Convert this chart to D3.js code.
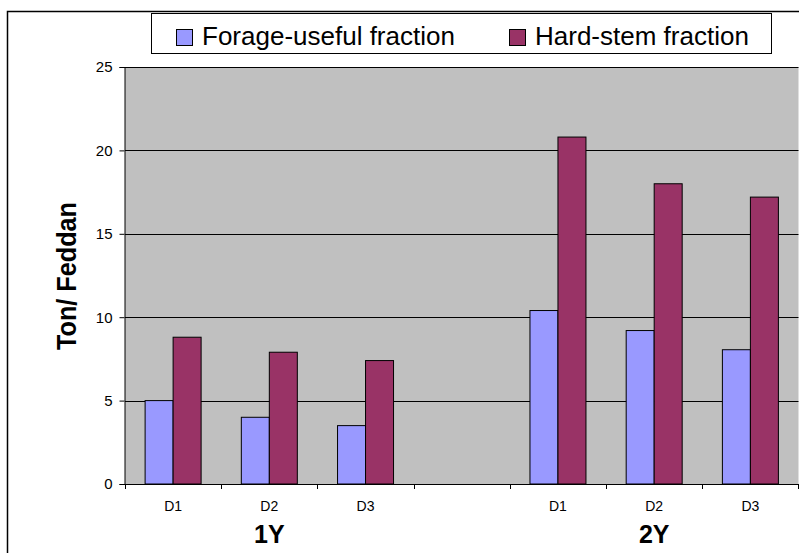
<!DOCTYPE html>
<html>
<head>
<meta charset="utf-8">
<script src="https://cdn.jsdelivr.net/npm/d3@7"></script>
<style>
  body { margin: 0; background: #fff; }
  text { font-family: "Liberation Sans", Arial, sans-serif; fill: #000; }
</style>
</head>
<body>
<div id="chart"></div>
<script>
// Data
const categories = ["1Y-D1", "1Y-D2", "1Y-D3", "gap", "2Y-D1", "2Y-D2", "2Y-D3"];
const catLabels = ["D1", "D2", "D3", "", "D1", "D2", "D3"];
const forage = [5.0, 4.0, 3.5, null, 10.4, 9.2, 8.05];
const hardStem = [8.8, 7.9, 7.4, null, 20.8, 18.0, 17.2];
const groups = ["1Y", "2Y"];
const groupCats = [["1Y-D1", "1Y-D2", "1Y-D3"], ["2Y-D1", "2Y-D2", "2Y-D3"]];
const seriesNames = ["Forage-useful fraction", "Hard-stem fraction"];
const yTicks = [0, 5, 10, 15, 20, 25];

const width = 799, height = 553;
const colors = ["#9999FF", "#993366"];

let svg = d3.select("#chart").append("svg")
  .attr("width", width)
  .attr("height", height);

// Outer chart border (runs off the right and bottom edge)
svg.append("rect")
  .attr("x", 7.5)
  .attr("y", 11.5)
  .attr("width", 810)
  .attr("height", 560)
  .attr("fill", "#fff")
  .attr("stroke", "#000")
  .attr("stroke-width", 1.5);

let plot = {left: 125, right: 798.5, top: 67, bottom: 484};

// Scales
let x = d3.scaleBand()
  .domain(categories)
  .range([plot.left, plot.right])
  .paddingInner(0.418)
  .paddingOuter(0.209);

let xSub = d3.scaleBand()
  .domain([0, 1])
  .range([0, x.bandwidth()]);

let y = d3.scaleLinear()
  .domain([0, 25])
  .range([plot.bottom, plot.top]);

// Plot area
svg.append("rect")
  .attr("x", plot.left)
  .attr("y", plot.top)
  .attr("width", plot.right - plot.left)
  .attr("height", plot.bottom - plot.top)
  .attr("fill", "#C0C0C0");

// Gridlines
svg.append("g")
  .selectAll("line")
  .data(yTicks.filter(d => d > 0))
  .join("line")
  .attr("x1", plot.left)
  .attr("x2", plot.right)
  .attr("y1", d => Math.round(y(d)) + 0.5)
  .attr("y2", d => Math.round(y(d)) + 0.5)
  .attr("stroke", "#000")
  .attr("stroke-width", 1);

// Bars
let series = [forage, hardStem];
series.forEach((vals, s) => {
  svg.append("g")
    .selectAll("rect")
    .data(categories.map((c, i) => ({c: c, v: vals[i]})).filter(d => d.v != null))
    .join("rect")
    .attr("x", d => x(d.c) + xSub(s))
    .attr("y", d => y(d.v))
    .attr("width", xSub.bandwidth())
    .attr("height", d => plot.bottom - y(d.v))
    .attr("fill", colors[s])
    .attr("stroke", "#000")
    .attr("stroke-width", 1);
});

// Y axis
let yAxis = svg.append("g")
  .attr("transform", "translate(" + (plot.left - 0.5) + ",0)")
  .call(d3.axisLeft(y).tickValues(yTicks).tickSize(5).tickPadding(7));
yAxis.select(".domain").attr("stroke", "#000");
yAxis.selectAll(".tick line").attr("stroke", "#000");
yAxis.selectAll("text")
  .style("font-size", "15px")
  .style("font-family", "'Liberation Sans', Arial, sans-serif")
  .attr("fill", "#000");

// X axis line and boundary ticks
let step = x.step();
let bounds = d3.range(categories.length + 1).map(i => plot.left + i * step);
svg.append("line")
  .attr("x1", plot.left)
  .attr("x2", plot.right)
  .attr("y1", plot.bottom + 0.5)
  .attr("y2", plot.bottom + 0.5)
  .attr("stroke", "#000");
svg.append("g")
  .selectAll("line")
  .data(bounds)
  .join("line")
  .attr("x1", d => Math.min(Math.round(d), 798) + 0.5)
  .attr("x2", d => Math.min(Math.round(d), 798) + 0.5)
  .attr("y1", plot.bottom)
  .attr("y2", plot.bottom + 5)
  .attr("stroke", "#000");

// Category labels
svg.append("g")
  .selectAll("text")
  .data(categories)
  .join("text")
  .attr("x", d => x(d) + x.bandwidth() / 2)
  .attr("y", 511)
  .attr("text-anchor", "middle")
  .style("font-size", "14px")
  .text((d, i) => catLabels[i]);

// Group labels
svg.append("g")
  .selectAll("text")
  .data(groups)
  .join("text")
  .attr("x", (d, i) => {
    let cs = groupCats[i];
    return (x(cs[0]) + x(cs[cs.length - 1]) + x.bandwidth()) / 2;
  })
  .attr("y", 543)
  .attr("text-anchor", "middle")
  .style("font-size", "25px")
  .style("font-weight", "bold")
  .text(d => d);

// Y axis title
svg.append("text")
  .attr("transform", "translate(76,276) rotate(-90)")
  .attr("text-anchor", "middle")
  .attr("textLength", 148)
  .attr("lengthAdjust", "spacingAndGlyphs")
  .style("font-size", "28px")
  .style("font-weight", "bold")
  .text("Ton/ Feddan");

// Legend
let legend = svg.append("g");
legend.append("rect")
  .attr("x", 151.5)
  .attr("y", 13.5)
  .attr("width", 620)
  .attr("height", 40)
  .attr("fill", "#fff")
  .attr("stroke", "#000")
  .attr("stroke-width", 1);

let legendX = [176, 509];
seriesNames.forEach((name, i) => {
  legend.append("rect")
    .attr("x", legendX[i] + 0.5)
    .attr("y", 29.5)
    .attr("width", 16)
    .attr("height", 16)
    .attr("fill", colors[i])
    .attr("stroke", "#000");
  legend.append("text")
    .attr("x", legendX[i] + 26)
    .attr("y", 45)
    .style("font-size", "26px")
    .text(name);
});
</script>
</body>
</html>
